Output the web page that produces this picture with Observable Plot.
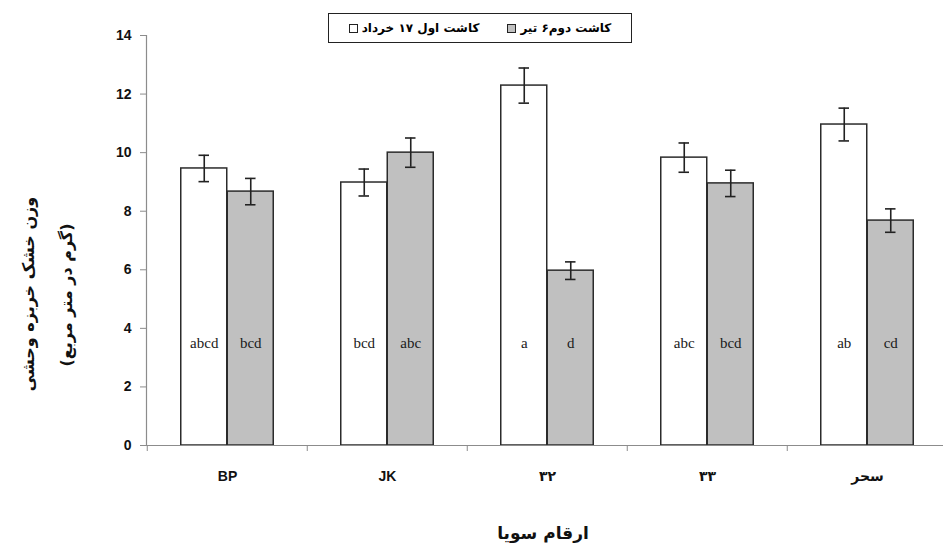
<!DOCTYPE html>
<html><head><meta charset="utf-8">
<script src="https://cdn.jsdelivr.net/npm/d3@7"></script>
<script src="https://cdn.jsdelivr.net/npm/@observablehq/plot@0.6"></script>
<style>
body{margin:0;background:#fff;}
#wrap{position:relative;width:943px;height:550px;overflow:hidden;}
.fa{font-family:"DejaVu Sans",sans-serif;font-weight:bold;color:#111;position:absolute;white-space:nowrap;}
.rot{transform:translate(-50%,-50%) rotate(-90deg);}
#legend{position:absolute;left:328px;top:13px;width:304px;height:30px;border:1px solid #222;box-sizing:border-box;display:flex;align-items:center;justify-content:center;gap:6px;font-family:"DejaVu Sans",sans-serif;font-weight:bold;font-size:12px;background:#fff;}
.sw{width:9px;height:9px;border:1px solid #222;box-sizing:border-box;display:inline-block;}
</style></head>
<body><div id="wrap"></div>
<script>
const cultivars = ["BP", "JK", "۳۲", "۳۳", "سحر"];
const plantings = ["کاشت اول ۱۷ خرداد", "کاشت دوم۶ تیر"];
const firstValues = [9.46, 8.98, 12.29, 9.83, 10.96];
const firstErrors = [0.45, 0.46, 0.60, 0.50, 0.56];
const secondValues = [8.67, 10.0, 5.97, 8.95, 7.68];
const secondErrors = [0.45, 0.50, 0.30, 0.45, 0.40];
const firstLetters = ["abcd", "bcd", "a", "abc", "ab"];
const secondLetters = ["bcd", "abc", "d", "bcd", "cd"];
const yTicks = [0, 2, 4, 6, 8, 10, 12, 14];
const letterLevel = 3.5;

const firstRows = cultivars.map((c, i) => ({cultivar: c, value: firstValues[i], err: firstErrors[i], letter: firstLetters[i]}));
const secondRows = cultivars.map((c, i) => ({cultivar: c, value: secondValues[i], err: secondErrors[i], letter: secondLetters[i]}));

const half = 80.25, barW = 46.5, off = barW / 2, capIn = (2 * half - 11) / 2;
const axisGrey = "#8c8c8c", barStroke = "#2b2b2b";

const chart = Plot.plot({
  width: 943, height: 550,
  marginLeft: 146, marginRight: 0, marginTop: 35, marginBottom: 105,
  x: {domain: cultivars, range: [146, 948], padding: 0, label: null},
  y: {domain: [0, 14], label: null},
  style: {background: "transparent", color: "#111"},
  marks: [
    Plot.barY(firstRows, {x: "cultivar", y: "value", fill: "white", stroke: barStroke, strokeWidth: 1.5, insetLeft: half - barW, insetRight: half}),
    Plot.barY(secondRows, {x: "cultivar", y: "value", fill: "#c0c0c0", stroke: barStroke, strokeWidth: 1.5, insetLeft: half, insetRight: half - barW}),
    Plot.frame({anchor: "left", stroke: axisGrey, strokeWidth: 1.2}),
    Plot.frame({anchor: "bottom", stroke: axisGrey, strokeWidth: 1.2}),
    Plot.ruleX(firstRows, {x: "cultivar", y1: d => d.value - d.err, y2: d => d.value + d.err, dx: -off, stroke: "#222", strokeWidth: 1.6}),
    Plot.ruleX(secondRows, {x: "cultivar", y1: d => d.value - d.err, y2: d => d.value + d.err, dx: off, stroke: "#222", strokeWidth: 1.6}),
    ...[[firstRows, -off], [secondRows, off]].flatMap(([rows, dx]) => [
      Plot.tickY(rows, {x: "cultivar", y: d => d.value + d.err, dx, insetLeft: capIn, insetRight: capIn, stroke: "#222", strokeWidth: 1.6}),
      Plot.tickY(rows, {x: "cultivar", y: d => d.value - d.err, dx, insetLeft: capIn, insetRight: capIn, stroke: "#222", strokeWidth: 1.6})
    ]),
    Plot.text(firstRows, {x: "cultivar", y: () => letterLevel, text: "letter", dx: -off, fontFamily: "Liberation Serif, serif", fontSize: 15, fill: "#1a1a1a"}),
    Plot.text(secondRows, {x: "cultivar", y: () => letterLevel, text: "letter", dx: off, fontFamily: "Liberation Serif, serif", fontSize: 15, fill: "#1a1a1a"}),
    Plot.axisY({ticks: yTicks, tickSize: 6, tickPadding: 9, stroke: axisGrey, fill: "#111", fontSize: 14, fontWeight: "bold", fontFamily: "Liberation Sans, sans-serif", label: null}),
    Plot.axisX({tickSize: 6, dx: -half, stroke: axisGrey, tickFormat: () => "", label: null}),
    Plot.axisX({tickSize: 0, tickPadding: 26, fill: "#111", fontSize: 14, fontWeight: "bold", fontFamily: "Liberation Sans, DejaVu Sans, sans-serif", label: null})
  ]
});
const wrap = document.getElementById("wrap");
wrap.appendChild(chart);

function addText(txt, x, y, size, rotate) {
  const d = document.createElement("div");
  d.className = "fa" + (rotate ? " rot" : "");
  d.textContent = txt;
  d.style.left = x + "px"; d.style.top = y + "px"; d.style.fontSize = size + "px";
  if (!rotate) d.style.transform = "translate(-50%,-50%)";
  d.dir = "rtl";
  wrap.appendChild(d);
}
addText("وزن خشک خربزه وحشی", 28, 294, 16, true);
addText("(گرم در متر مربع)", 66, 295, 16, true);
addText("ارقام سویا", 543, 533, 17, false);

const lg = document.createElement("div");
lg.id = "legend";
const fills = ["white", "#c0c0c0"];
plantings.forEach((p, i) => {
  const item = document.createElement("span");
  item.style.display = "inline-flex"; item.style.alignItems = "center"; item.style.gap = "4px";
  item.style.marginRight = i === 0 ? "22px" : "0";
  const sw = document.createElement("span"); sw.className = "sw"; sw.style.background = fills[i];
  const t = document.createElement("span"); t.textContent = p; t.dir = "rtl";
  item.appendChild(sw); item.appendChild(t);
  lg.appendChild(item);
});
wrap.appendChild(lg);
</script></body></html>
